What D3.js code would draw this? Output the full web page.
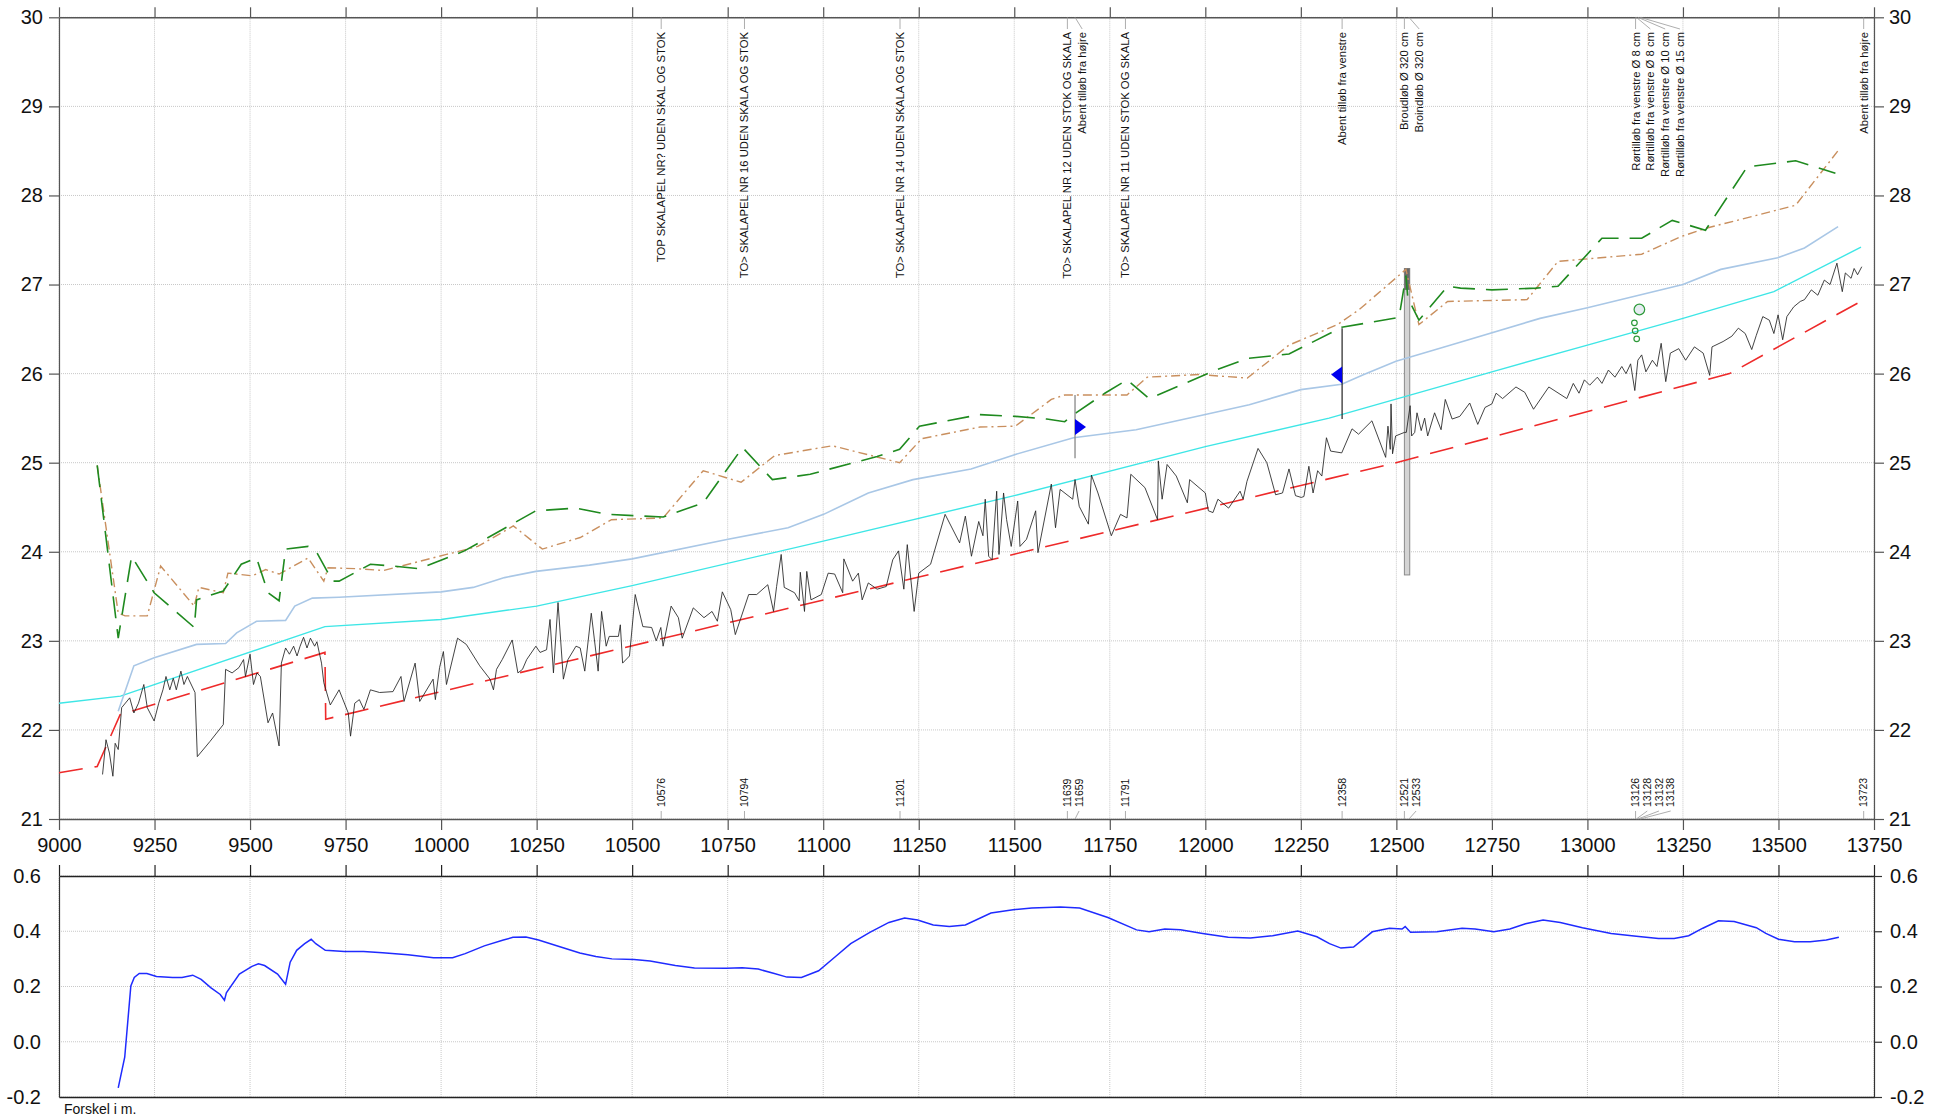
<!DOCTYPE html>
<html>
<head>
<meta charset="utf-8">
<script src="https://cdn.jsdelivr.net/npm/d3@7"></script>
<style>
  body { margin: 0; background: #fff; }
  text { font-family: "Liberation Sans", Arial, sans-serif; }
</style>
</head>
<body>
<svg id="chart" width="1941" height="1117"></svg>
<script>
// ---- data (station, level) ----
var xTicks = [9000, 9250, 9500, 9750, 10000, 10250, 10500, 10750, 11000, 11250, 11500, 11750, 12000, 12250, 12500, 12750, 13000, 13250, 13500, 13750];
var levelTicks = [21, 22, 23, 24, 25, 26, 27, 28, 29, 30];
var diffTicks = [-0.2, 0.0, 0.2, 0.4, 0.6];

// black terrain / bottom profile
var terrain = [
  [9114,21.50],[9123,21.89],[9132,21.74],[9141,21.48],[9147,21.85],[9155,21.78],[9164,22.25],[9185,22.36],
  [9196,22.19],[9208,22.30],[9222,22.51],[9231,22.25],[9249,22.10],[9261,22.30],[9272,22.45],[9280,22.60],
  [9290,22.45],[9299,22.58],[9307,22.45],[9319,22.66],[9327,22.51],[9336,22.60],[9356,22.42],[9362,21.70],
  [9395,21.87],[9430,22.06],[9436,22.68],[9453,22.64],[9471,22.70],[9483,22.79],[9488,22.60],[9500,22.85],
  [9509,22.51],[9518,22.64],[9527,22.60],[9547,22.08],[9559,22.19],[9576,21.82],[9582,22.75],[9593,22.92],
  [9603,22.85],[9614,22.94],[9623,22.83],[9631,22.94],[9640,23.04],[9649,22.92],[9658,23.03],[9669,22.94],
  [9675,22.99],[9687,22.75],[9693,22.53],[9710,22.28],[9733,22.45],[9757,22.19],[9763,21.93],[9774,22.30],
  [9786,22.34],[9798,22.23],[9815,22.45],[9839,22.42],[9874,22.43],[9895,22.60],[9903,22.32],[9932,22.75],
  [9944,22.32],[9979,22.57],[9985,22.34],[9996,22.70],[10006,22.88],[10014,22.51],[10043,23.03],[10066,22.96],
  [10101,22.72],[10128,22.57],[10137,22.45],[10145,22.68],[10160,22.79],[10186,23.01],[10201,22.64],[10213,22.68],
  [10224,22.79],[10248,22.94],[10259,22.87],[10276,22.90],[10285,23.24],[10294,22.64],[10306,23.43],[10320,22.57],
  [10332,22.79],[10353,22.94],[10364,22.92],[10376,22.66],[10393,23.31],[10411,22.66],[10420,23.33],[10432,22.94],
  [10440,23.05],[10464,23.05],[10469,23.18],[10475,22.75],[10493,22.83],[10508,23.52],[10528,23.16],[10551,23.15],
  [10563,23.00],[10575,23.15],[10581,22.94],[10602,23.39],[10621,23.26],[10631,23.03],[10660,23.37],[10688,23.26],
  [10709,23.33],[10723,23.22],[10736,23.55],[10758,23.35],[10770,23.07],[10805,23.52],[10826,23.52],[10855,23.63],
  [10870,23.33],[10878,23.61],[10890,23.97],[10898,23.60],[10925,23.54],[10937,23.45],[10940,23.77],[10951,23.33],
  [10957,23.78],[10968,23.46],[10995,23.52],[11013,23.76],[11030,23.75],[11051,23.54],[11054,23.92],[11077,23.67],
  [11092,23.76],[11102,23.46],[11118,23.65],[11141,23.58],[11165,23.61],[11182,23.91],[11197,24.01],[11211,23.58],
  [11220,24.08],[11238,23.33],[11250,23.76],[11281,23.86],[11319,24.42],[11357,24.10],[11372,24.40],[11388,23.95],
  [11407,24.34],[11418,24.18],[11424,24.59],[11433,23.95],[11442,23.91],[11454,24.68],[11460,23.97],[11472,24.66],
  [11480,24.36],[11492,24.06],[11509,24.57],[11515,24.06],[11532,24.14],[11556,24.46],[11562,23.99],[11597,24.76],
  [11608,24.27],[11620,24.70],[11653,24.59],[11659,24.81],[11670,24.51],[11694,24.31],[11702,24.86],[11719,24.66],
  [11754,24.18],[11778,24.42],[11795,24.38],[11805,24.87],[11842,24.72],[11875,24.36],[11877,25.02],[11887,24.59],
  [11900,24.98],[11924,24.85],[11953,24.55],[11959,24.81],[12000,24.66],[12008,24.46],[12020,24.44],[12033,24.59],
  [12061,24.49],[12091,24.68],[12099,24.59],[12109,24.79],[12138,25.16],[12161,25.00],[12184,24.64],[12202,24.66],
  [12219,24.93],[12236,24.63],[12251,24.61],[12258,24.62],[12271,24.96],[12282,24.66],[12294,24.91],[12305,24.85],
  [12317,25.28],[12328,25.13],[12357,25.11],[12384,25.38],[12401,25.32],[12436,25.47],[12472,25.06],[12478,25.41],
  [12484,25.15],[12486,25.66],[12490,25.10],[12498,25.30],[12521,25.34],[12526,25.34],[12536,25.64],[12540,25.30],
  [12548,25.34],[12554,25.56],[12565,25.36],[12574,25.50],[12582,25.30],[12600,25.56],[12617,25.37],[12628,25.71],
  [12646,25.49],[12666,25.52],[12692,25.67],[12713,25.43],[12732,25.62],[12750,25.66],[12761,25.78],[12778,25.72],
  [12813,25.85],[12836,25.79],[12859,25.60],[12899,25.85],[12946,25.72],[12963,25.89],[12978,25.78],[12992,25.93],
  [13006,25.87],[13026,25.96],[13038,25.89],[13055,26.04],[13072,25.96],[13090,26.08],[13101,26.00],[13113,26.11],
  [13124,25.81],[13132,26.15],[13142,26.21],[13153,26.02],[13170,26.15],[13182,26.08],[13193,26.34],[13205,25.91],
  [13217,26.23],[13239,26.28],[13257,26.15],[13280,26.30],[13303,26.23],[13320,25.98],[13326,26.30],[13355,26.36],
  [13378,26.42],[13395,26.51],[13413,26.45],[13430,26.27],[13442,26.43],[13459,26.64],[13476,26.60],[13488,26.45],
  [13499,26.66],[13511,26.38],[13522,26.64],[13540,26.75],[13557,26.81],[13568,26.83],[13586,26.94],[13603,26.88],
  [13620,27.05],[13635,27.00],[13653,27.24],[13667,26.92],[13675,27.13],[13690,27.07],[13698,27.18],[13707,27.11],
  [13718,27.20]
];

// red dashed line
var pipeBottom = [
  [9000,21.52],[9100,21.59],[9160,22.17],[9696,22.87],[9698,22.12],[12499,25.00],[13372,26.00],[13715,26.81]
];

// cyan line
var cyanLine = [
  [9000,22.30],[9161,22.38],[9696,23.16],[10000,23.24],[10250,23.39],[10500,23.62],[11000,24.12],
  [11500,24.63],[12000,25.18],[12324,25.50],[12750,26.02],[13000,26.32],[13250,26.62],[13488,26.92],[13716,27.42]
];

// light blue line
var blueLine = [
  [9155,22.21],[9196,22.72],[9249,22.81],[9360,22.96],[9436,22.97],[9465,23.09],[9517,23.22],[9593,23.23],
  [9617,23.39],[9663,23.48],[9733,23.49],[10000,23.55],[10084,23.60],[10166,23.71],[10248,23.78],[10388,23.85],
  [10500,23.92],[10751,24.14],[10908,24.27],[11001,24.42],[11118,24.66],[11235,24.81],[11387,24.93],[11501,25.09],
  [11655,25.28],[11819,25.37],[12000,25.54],[12115,25.65],[12250,25.82],[12357,25.88],[12415,25.99],[12499,26.14],
  [12634,26.31],[12876,26.62],[13000,26.74],[13250,27.00],[13349,27.17],[13498,27.30],[13568,27.41],[13656,27.65]
];

// green long-dash line
var greenLine = [
  [9100,24.97],[9155,23.03],[9190,23.95],[9249,23.54],[9354,23.15],[9360,23.46],[9430,23.56],[9477,23.86],
  [9517,23.93],[9547,23.54],[9576,23.45],[9593,24.03],[9652,24.06],[9675,23.99],[9716,23.67],[9733,23.67],
  [9815,23.86],[9874,23.84],[9944,23.81],[10061,24.01],[10248,24.46],[10353,24.49],[10434,24.42],[10581,24.39],
  [10686,24.55],[10789,25.17],[10867,24.81],[10966,24.87],[11141,25.07],[11200,25.15],[11252,25.41],[11410,25.54],
  [11503,25.52],[11585,25.49],[11632,25.46],[11655,25.54],[11737,25.78],[11795,25.93],[11853,25.72],[11947,25.89],
  [12028,26.04],[12110,26.17],[12219,26.22],[12357,26.52],[12507,26.63],[12525,27.10],[12530,26.85],[12559,26.60],
  [12634,26.98],[12668,26.96],[12750,26.94],[12865,26.96],[12923,26.98],[13038,27.52],[13142,27.52],[13222,27.72],
  [13309,27.61],[13418,28.32],[13545,28.39],[13649,28.25]
];

// tan dash-dot line
var tanLine = [
  [9100,24.97],[9155,23.31],[9173,23.28],[9231,23.28],[9266,23.84],[9354,23.39],[9366,23.60],[9430,23.54],
  [9442,23.76],[9506,23.73],[9541,23.80],[9576,23.75],[9652,23.93],[9693,23.67],[9704,23.82],[9780,23.81],
  [9850,23.79],[10014,23.97],[10096,24.06],[10189,24.29],[10265,24.03],[10364,24.16],[10446,24.36],[10581,24.38],
  [10686,24.91],[10785,24.78],[10873,25.08],[11024,25.19],[11200,25.00],[11258,25.27],[11410,25.40],[11503,25.41],
  [11597,25.71],[11632,25.76],[11795,25.76],[11848,25.96],[11982,25.99],[12110,25.95],[12219,26.32],[12346,26.55],
  [12403,26.72],[12525,27.17],[12559,26.55],[12634,26.81],[12842,26.83],[12923,27.26],[13142,27.34],[13246,27.54],
  [13309,27.63],[13545,27.89],[13661,28.53]
];

// lower panel: difference in m
var diffLine = [
  [9155,-0.167],[9172,-0.056],[9188,0.202],[9197,0.233],[9210,0.247],[9230,0.247],[9255,0.236],[9297,0.233],
  [9322,0.233],[9350,0.241],[9372,0.226],[9397,0.196],[9422,0.171],[9433,0.150],[9438,0.177],[9472,0.245],
  [9505,0.273],[9522,0.282],[9538,0.276],[9572,0.245],[9593,0.208],[9605,0.288],[9622,0.331],[9643,0.355],
  [9660,0.371],[9672,0.355],[9697,0.331],[9747,0.327],[9797,0.327],[9847,0.322],[9913,0.315],[9980,0.304],
  [10030,0.304],[10063,0.319],[10113,0.347],[10163,0.368],[10188,0.378],[10222,0.379],[10255,0.368],[10313,0.343],
  [10363,0.321],[10405,0.309],[10447,0.300],[10505,0.298],[10547,0.292],[10613,0.276],[10663,0.267],[10747,0.266],
  [10788,0.268],[10830,0.263],[10872,0.247],[10905,0.234],[10943,0.233],[10988,0.257],[11030,0.306],[11072,0.355],
  [11122,0.396],[11172,0.432],[11213,0.448],[11247,0.441],[11288,0.423],[11330,0.417],[11372,0.423],[11439,0.466],
  [11497,0.478],[11546,0.484],[11621,0.488],[11671,0.484],[11745,0.450],[11820,0.405],[11853,0.398],[11894,0.408],
  [11935,0.405],[11993,0.392],[12060,0.378],[12118,0.376],[12176,0.384],[12242,0.401],[12292,0.380],[12325,0.355],
  [12355,0.339],[12388,0.343],[12437,0.398],[12482,0.411],[12515,0.408],[12523,0.417],[12537,0.396],[12606,0.398],
  [12672,0.411],[12706,0.408],[12755,0.398],[12797,0.408],[12838,0.427],[12884,0.441],[12929,0.432],[12987,0.413],
  [13062,0.392],[13128,0.382],[13186,0.374],[13227,0.374],[13265,0.384],[13302,0.411],[13343,0.438],[13384,0.435],
  [13442,0.413],[13467,0.392],[13500,0.371],[13542,0.362],[13583,0.362],[13625,0.368],[13658,0.378]
];

// notes at the top of the profile
var topNotes = [
  [10576, "TOP SKALAPEL NR? UDEN SKAL OG STOK"],
  [10794, "TO> SKALAPEL NR 16 UDEN SKALA OG STOK"],
  [11201, "TO> SKALAPEL NR 14 UDEN SKALA OG STOK"],
  [11639, "TO> SKALAPEL NR 12 UDEN STOK OG SKALA"],
  [11659, "Abent tilløb fra højre"],
  [11791, "TO> SKALAPEL NR 11 UDEN STOK OG SKALA"],
  [12358, "Abent tilløb fra venstre"],
  [12521, "Broudløb Ø 320 cm"],
  [12533, "Broindløb Ø 320 cm"],
  [13126, "Rørtilløb fra venstre Ø 8 cm"],
  [13128, "Rørtilløb fra venstre Ø 8 cm"],
  [13132, "Rørtilløb fra venstre Ø 10 cm"],
  [13138, "Rørtilløb fra venstre Ø 15 cm"],
  [13723, "Abent tilløb fra højre"]
];

// open inlets: station, line from/to, triangle from/to/tip, direction
var inlets = [
  { st: 11659, lo: 25.05, hi: 25.76, tLo: 25.31, tHi: 25.49, tip: 25.40, dir: 1 },
  { st: 12358, lo: 25.49, hi: 26.51, tLo: 25.89, tHi: 26.08, tip: 25.99, dir: -1 }
];

// bridge (well) and pipe inlets
var bridge = { st0: 12521, st1: 12535, top: 27.18, dark: 26.94, bottom: 23.74 };
var pipeCircles = [[13136, 26.72, 5.3], [13123, 26.57, 2.8], [13125, 26.48, 2.8], [13129, 26.39, 2.8]];

// ---- layout ----
var svg = d3.select("#chart");
var x = d3.scaleLinear().domain([9000, 13750]).range([59, 1874]);
var y = d3.scaleLinear().domain([21, 30]).range([819, 17.3]);
var yd = d3.scaleLinear().domain([-0.2, 0.6]).range([1097, 876]);

var gridColor = "#c8c8c8";
var axisColor = "#555";

function grid(g, yScale, yVals) {
  g.selectAll("line.gx").data(xTicks).enter().append("line")
    .attr("x1", function (d) { return x(d); }).attr("x2", function (d) { return x(d); })
    .attr("y1", yScale.range()[1]).attr("y2", yScale.range()[0])
    .attr("stroke", gridColor).attr("stroke-width", 1).attr("stroke-dasharray", "1,1");
  g.selectAll("line.gy").data(yVals).enter().append("line")
    .attr("x1", x.range()[0]).attr("x2", x.range()[1])
    .attr("y1", function (d) { return yScale(d); }).attr("y2", function (d) { return yScale(d); })
    .attr("stroke", gridColor).attr("stroke-width", 1).attr("stroke-dasharray", "1,1");
}

function styleAxis(g, color, width) {
  g.selectAll("path.domain").attr("stroke", color).attr("stroke-width", width);
  g.selectAll(".tick line").attr("stroke", color).attr("stroke-width", 1.2);
  g.selectAll(".tick text").attr("fill", "#111").style("font-size", "20px")
    .style("font-family", "'Liberation Sans', Arial, sans-serif");
}

// main panel
grid(svg.append("g"), y, levelTicks);

var fmtStation = d3.format("d");
var fmtLevel = d3.format("d");
// plain hyphen for negatives, as in the original
var fmtDiff = function (d) { return d.toFixed(1); };

styleAxis(svg.append("g").attr("transform", "translate(0," + y(30) + ")")
  .call(d3.axisTop(x).tickValues(xTicks).tickSize(10).tickSizeOuter(0).tickFormat("")), axisColor, 1.6);
styleAxis(svg.append("g").attr("transform", "translate(0," + y(21) + ")")
  .call(d3.axisBottom(x).tickValues(xTicks).tickSize(11).tickSizeOuter(0).tickPadding(8).tickFormat(fmtStation)), axisColor, 1.6);
styleAxis(svg.append("g").attr("transform", "translate(" + x(9000) + ",0)")
  .call(d3.axisLeft(y).tickValues(levelTicks).tickSize(10).tickSizeOuter(0).tickPadding(6).tickFormat(fmtLevel)), axisColor, 1.2);
styleAxis(svg.append("g").attr("transform", "translate(" + x(13750) + ",0)")
  .call(d3.axisRight(y).tickValues(levelTicks).tickSize(10).tickSizeOuter(0).tickPadding(5).tickFormat(fmtLevel)), axisColor, 1.2);

// lower panel
grid(svg.append("g"), yd, diffTicks);
styleAxis(svg.append("g").attr("transform", "translate(0," + yd(0.6) + ")")
  .call(d3.axisTop(x).tickValues(xTicks).tickSize(11).tickSizeOuter(0).tickFormat("")), "#222", 1.6);
styleAxis(svg.append("g").attr("transform", "translate(0," + yd(-0.2) + ")")
  .call(d3.axisBottom(x).tickValues(xTicks).tickSize(0).tickSizeOuter(0).tickFormat("")), "#222", 1.6);
styleAxis(svg.append("g").attr("transform", "translate(" + x(9000) + ",0)")
  .call(d3.axisLeft(yd).tickValues(diffTicks).tickSize(0).tickSizeOuter(0).tickPadding(18).tickFormat(fmtDiff)), "#333", 1.2);
styleAxis(svg.append("g").attr("transform", "translate(" + x(13750) + ",0)")
  .call(d3.axisRight(yd).tickValues(diffTicks).tickSize(8).tickSizeOuter(0).tickPadding(8).tickFormat(fmtDiff)), "#333", 1.2);

svg.append("text").attr("x", 64).attr("y", 1114)
  .style("font-size", "14px").attr("fill", "#111").text("Forskel i m.");

// ---- series ----
var line = d3.line().x(function (d) { return x(d[0]); }).y(function (d) { return y(d[1]); });
var lineD = d3.line().x(function (d) { return x(d[0]); }).y(function (d) { return yd(d[1]); });

// bridge / well
svg.append("rect")
  .attr("x", x(bridge.st0)).attr("width", x(bridge.st1) - x(bridge.st0))
  .attr("y", y(bridge.top)).attr("height", y(bridge.bottom) - y(bridge.top))
  .attr("fill", "#d4d4d4").attr("stroke", "#8a8a8a").attr("stroke-width", 1);
svg.append("rect")
  .attr("x", x(bridge.st0)).attr("width", x(bridge.st1) - x(bridge.st0))
  .attr("y", y(bridge.top)).attr("height", y(bridge.dark) - y(bridge.top))
  .attr("fill", "#6a6a6a");

svg.append("path").datum(cyanLine).attr("d", line)
  .attr("fill", "none").attr("stroke", "#3ee6e6").attr("stroke-width", 1.4);
svg.append("path").datum(blueLine).attr("d", line)
  .attr("fill", "none").attr("stroke", "#a9c7e6").attr("stroke-width", 1.6);
svg.append("path").datum(pipeBottom).attr("d", line)
  .attr("fill", "none").attr("stroke", "#ee2a2a").attr("stroke-width", 1.6)
  .attr("stroke-dasharray", "24,12");
svg.append("path").datum(tanLine).attr("d", line)
  .attr("fill", "none").attr("stroke", "#c98f5e").attr("stroke-width", 1.4)
  .attr("stroke-dasharray", "9,4,2,4");
svg.append("path").datum(greenLine).attr("d", line)
  .attr("fill", "none").attr("stroke", "#1f8a1f").attr("stroke-width", 1.6)
  .attr("stroke-dasharray", "22,11");
svg.append("path").datum(terrain).attr("d", line)
  .attr("fill", "none").attr("stroke", "#222").attr("stroke-width", 0.85);

// pipe inlet circles
svg.selectAll("circle.pipe").data(pipeCircles).enter().append("circle")
  .attr("cx", function (d) { return x(d[0]); })
  .attr("cy", function (d) { return y(d[1]); })
  .attr("r", function (d) { return d[2]; })
  .attr("fill", function (d, i) { return i == 0 ? "#e6ecf2" : "none"; })
  .attr("stroke", "#2e9a3a").attr("stroke-width", 1.2);

// open inlets: vertical line + triangle
inlets.forEach(function (d) {
  svg.append("line")
    .attr("x1", x(d.st)).attr("x2", x(d.st))
    .attr("y1", y(d.lo)).attr("y2", y(d.hi))
    .attr("stroke", d.dir > 0 ? "#888" : "#333").attr("stroke-width", 1.3);
  var px = x(d.st);
  svg.append("path")
    .attr("d", "M" + px + "," + y(d.tHi) + "L" + px + "," + y(d.tLo) + "L" + (px + d.dir * 11) + "," + y(d.tip) + "Z")
    .attr("fill", "#0000ee");
});

svg.append("path").datum(diffLine).attr("d", lineD)
  .attr("fill", "none").attr("stroke", "#1f2bff").attr("stroke-width", 1.5);

// ---- station notes ----
function spread(stations, gap) {
  var out = [];
  var last = -1e9;
  stations.forEach(function (s) {
    var p = Math.max(x(s), last + gap);
    out.push(p);
    last = p;
  });
  return out;
}

var noteStations = topNotes.map(function (d) { return d[0]; });
var topPos = spread(noteStations, 14.8);
var botPos = spread(noteStations, 11.7);

var notes = svg.append("g");
topNotes.forEach(function (d, i) {
  notes.append("line")
    .attr("x1", x(d[0])).attr("y1", y(30))
    .attr("x2", topPos[i]).attr("y2", 29)
    .attr("stroke", "#999").attr("stroke-width", 0.8);
  notes.append("text")
    .attr("transform", "translate(" + topPos[i] + ",32) rotate(-90)")
    .attr("text-anchor", "end").attr("dy", "0.35em")
    .style("font-size", "11.3px").attr("fill", "#111")
    .text(d[1]);

  notes.append("line")
    .attr("x1", x(d[0])).attr("y1", y(21))
    .attr("x2", botPos[i]).attr("y2", 811)
    .attr("stroke", "#999").attr("stroke-width", 0.8);
  notes.append("text")
    .attr("transform", "translate(" + botPos[i] + ",807) rotate(-90)")
    .attr("text-anchor", "start").attr("dy", "0.35em")
    .style("font-size", "10.5px").attr("fill", "#111")
    .text(d[0]);
});
</script>
</body>
</html>
